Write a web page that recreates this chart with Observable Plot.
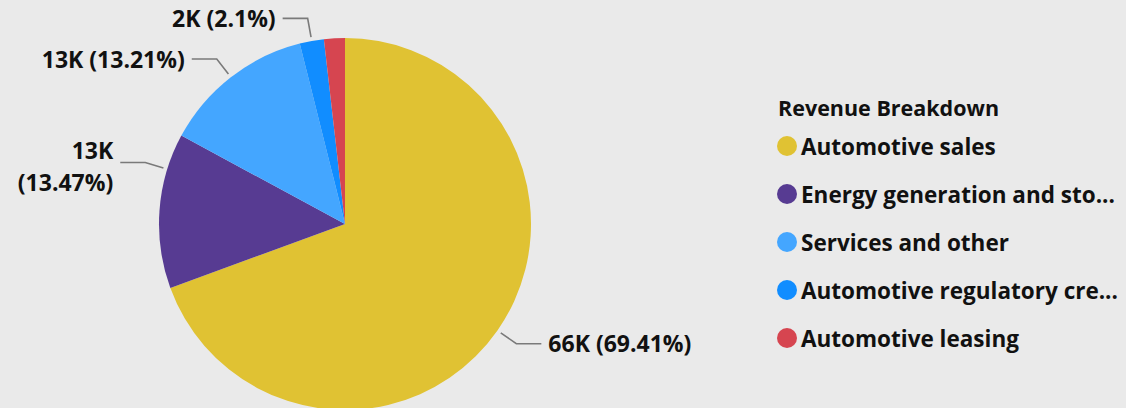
<!DOCTYPE html>
<html><head><meta charset="utf-8">
<script src="https://cdn.jsdelivr.net/npm/d3@7"></script>
<script src="https://cdn.jsdelivr.net/npm/@observablehq/plot@0.6"></script>
<style>
html,body{margin:0;padding:0;background:#eaeaea;}
body{font-family:"Open Sans","Noto Sans",sans-serif;}
#wrap{position:relative;width:1126px;height:408px;overflow:hidden;}
#chart{position:absolute;left:0;top:0;}
#legend{position:absolute;left:778px;top:94px;width:348px;color:#111;}
#legend .title{font-weight:700;font-size:21.5px;height:28px;line-height:28px;white-space:nowrap;}
#legend .item{display:flex;align-items:center;height:48px;white-space:nowrap;margin-left:-1px;}
#legend .sw{width:20px;height:20px;border-radius:50%;flex:none;margin-right:4px;}
#legend .lab{font-weight:700;font-size:22.5px;}
</style></head><body>
<div id="wrap"><div id="chart"></div><div id="legend"></div></div>
<script>
// ---- data ----
const categories = ["Automotive sales", "Energy generation and storage", "Services and other", "Automotive regulatory credits", "Automotive leasing"];
const values = [66148, 12837, 12589, 2001, 1725];
const colors = ["#E0C233", "#573B92", "#44A6FF", "#118DFF", "#D64550"];
const showLabel = [true, true, true, true, false];
const legendTitle = "Revenue Breakdown";

const data = categories.map((c, i) => ({category: c, value: values[i], show: showLabel[i]}));
const total = d3.sum(values);
const fmtVal = v => Math.round(v / 1000) + "K";
const fmtPct = v => (+(v * 100).toFixed(2)) + "%";

// ---- layout ----
const W = 760, H = 408;
const cx = 345, cy = 224, R = 186;
const labelNudge = {"Energy generation and storage": 13 * Math.PI / 180};
const LFS = 23;
const FONT = `700 ${LFS}px "Open Sans","Noto Sans",sans-serif`;
const LEGFONT = '700 22.5px "Open Sans","Noto Sans",sans-serif';

const canvas = document.createElement("canvas");
const ctx2 = canvas.getContext("2d");
function textW(t, font) { ctx2.font = font; return ctx2.measureText(t).width; }

function pieMark(index, scales, vals, dims, context) {
  const color = d3.scaleOrdinal(categories, colors);
  const arcs = d3.pie().sort(null).value(d => d.value)(data);
  const arc = d3.arc().innerRadius(0).outerRadius(R);
  const g = d3.create("svg:g").attr("transform", `translate(${cx},${cy})`);
  g.selectAll("path").data(arcs).join("path")
    .attr("d", arc).attr("fill", d => color(d.data.category));
  const polar = (r, a) => [r * Math.sin(a), -r * Math.cos(a)];
  const lg = g.append("g");
  for (const d of arcs) {
    if (!d.data.show) continue;
    const a = (d.startAngle + d.endAngle) / 2 + (labelNudge[d.data.category] || 0);
    const side = Math.sin(a) >= 0 ? 1 : -1;
    const p1 = polar(R + 4, a), p2 = polar(R + 23, a);
    const p3 = [p2[0] + side * 25, p2[1]];
    lg.append("path")
      .attr("d", `M${p1}L${p2}L${p3}`)
      .attr("fill", "none").attr("stroke", "#7a7a7a").attr("stroke-width", 1.6);
    const txt = `${fmtVal(d.data.value)} (${fmtPct(d.data.value / total)})`;
    const tx = p3[0] + side * 7;
    const avail = side < 0 ? (cx + tx) - 4 : (W - cx - tx);
    const t = lg.append("text")
      .attr("x", tx).attr("y", p3[1])
      .attr("text-anchor", side < 0 ? "end" : "start")
      .attr("font-weight", 700).attr("font-size", LFS)
      .attr("font-family", '"Open Sans","Noto Sans",sans-serif')
      .attr("fill", "#111");
    if (textW(txt, FONT) > avail) {
      const parts = txt.split(" ");
      t.append("tspan").attr("x", tx).attr("dy", "-0.17em").text(parts[0]);
      t.append("tspan").attr("x", tx).attr("dy", "1.39em").text(parts.slice(1).join(" "));
    } else {
      t.attr("dy", "0.38em").text(txt);
    }
  }
  return g.node();
}

const chart = Plot.plot({
  width: W, height: H,
  margin: 0,
  x: {axis: null}, y: {axis: null},
  style: {background: "transparent", overflow: "visible"},
  marks: [pieMark]
});
document.getElementById("chart").appendChild(chart);

// ---- legend ----
const legend = document.getElementById("legend");
const tdiv = document.createElement("div");
tdiv.className = "title"; tdiv.textContent = legendTitle;
legend.appendChild(tdiv);
const maxW = 1122 - 802;
categories.forEach((c, i) => {
  const it = document.createElement("div"); it.className = "item";
  const sw = document.createElement("span"); sw.className = "sw"; sw.style.background = colors[i];
  const lab = document.createElement("span"); lab.className = "lab";
  let t = c;
  if (textW(t, LEGFONT) > maxW) {
    while (t.length > 1 && textW(t + "...", LEGFONT) > maxW) t = t.slice(0, -1);
    t = t.trimEnd() + "...";
  }
  lab.textContent = t;
  it.appendChild(sw); it.appendChild(lab); legend.appendChild(it);
});
</script>
</body></html>
